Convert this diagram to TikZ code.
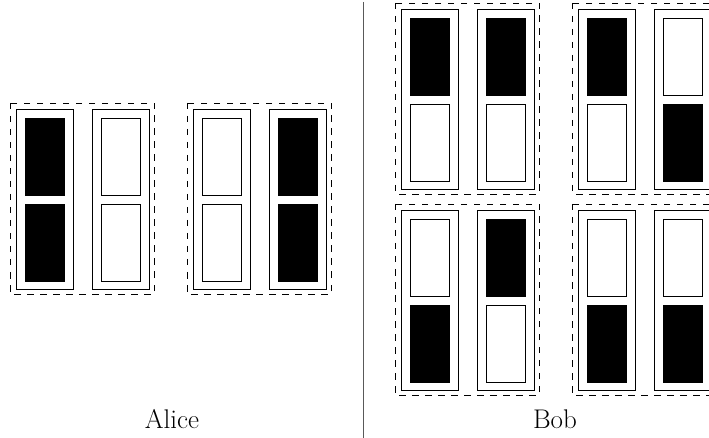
\documentclass[tikz,border=0pt]{standalone}
\usepackage{tikz}

\tikzset{
  grp/.style={draw=black, line width=0.9pt, dash pattern=on 6.5pt off 6.5pt},
  outerbox/.style={draw=black, line width=0.9pt, fill=white},
  cellblack/.style={draw=black, line width=0.9pt, fill=black},
  cellwhite/.style={draw=black, line width=0.9pt, fill=white},
  divider/.style={draw=black!65, line width=1pt},
  lbl/.style={font=\fontsize{27}{32}\selectfont, anchor=base, inner sep=0pt},
}

% one shutter: outer frame with two inner cells (#1,#2 top-left corner)
\newcommand\shutterpane[4]{%
  \draw[outerbox] (#1,#2) rectangle ++(57,180);
  \draw[#3] ({#1+9},{#2+9}) rectangle ++(39,77);
  \draw[#4] ({#1+9},{#2+95}) rectangle ++(39,77);
}
% a dashed group holding two shutters
\newcommand\shutterpair[6]{%
  \draw[grp] (#1,#2) rectangle ++(144,191);
  \shutterpane{#1+6}{#2+6}{#3}{#4}%
  \shutterpane{#1+82}{#2+6}{#5}{#6}%
}

\begin{document}
\begin{tikzpicture}[x=1pt, y=-1pt]
  \useasboundingbox (0,0) rectangle (709,438);
  \clip (0,0) rectangle (709,438);

  % Alice
  \shutterpair{10}{103}{cellblack}{cellblack}{cellwhite}{cellwhite}
  \shutterpair{187}{103}{cellwhite}{cellwhite}{cellblack}{cellblack}
  \node[lbl] (alice) at (172,428) {Alice};

  % separator
  \coordinate (divtop) at (363,2);
  \coordinate (divbot) at (363,438);
  \draw[divider] (divtop) -- (divbot);

  % Bob
  \shutterpair{395}{3}{cellblack}{cellwhite}{cellblack}{cellwhite}
  \shutterpair{572}{3}{cellblack}{cellwhite}{cellwhite}{cellblack}
  \shutterpair{395}{204}{cellwhite}{cellblack}{cellblack}{cellwhite}
  \shutterpair{572}{204}{cellwhite}{cellblack}{cellwhite}{cellblack}
  \node[lbl] (bob) at (555,428) {Bob};
\end{tikzpicture}
\end{document}
